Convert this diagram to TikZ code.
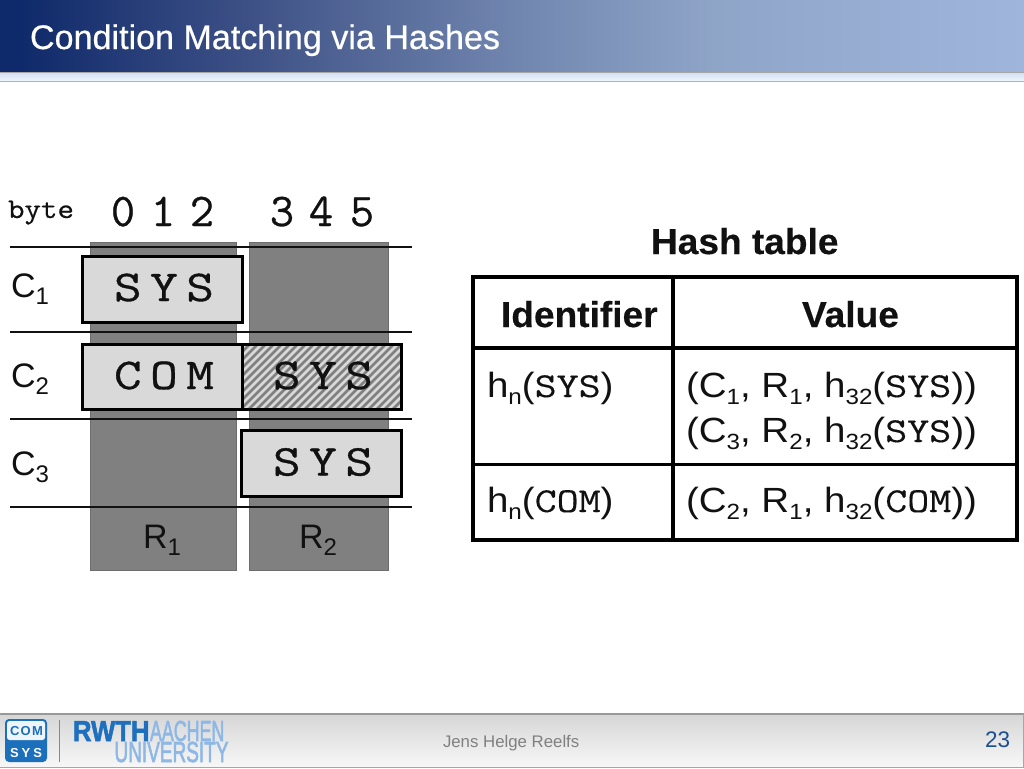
\documentclass[tikz,border=0pt]{standalone}
\usepackage{fontspec}
\setmainfont{Liberation Sans}
\setmonofont{Latin Modern Mono}
\newfontfamily\wmono[FakeStretch=1.22,FakeBold=0.8]{Latin Modern Mono}
\newfontfamily\dmono[FakeBold=0.6]{Latin Modern Mono}
\newfontfamily\cmono[FakeStretch=1.22,FakeBold=0.3]{Latin Modern Mono}
\newfontfamily\bmono[FakeStretch=1.12,FakeBold=0.5]{Latin Modern Mono}
\newfontfamily\tabfont[FakeStretch=1.10]{Liberation Sans}
\newfontfamily\tabbold[FakeStretch=1.03,FakeBold=0.4]{Liberation Sans Bold}
\newfontfamily\titlefont[FakeBold=0.5]{Liberation Sans}
\newfontfamily\logoheavy[FakeBold=2]{Liberation Sans Bold}
\newfontfamily\logomed[FakeBold=2.5]{Liberation Sans}
\definecolor{colgray}{HTML}{808080}
\definecolor{boxgray}{HTML}{D9D9D9}
\definecolor{ink}{HTML}{111111}
\definecolor{rwth}{HTML}{1F6FBF}
\definecolor{rwthlight}{HTML}{8DB8E6}
\definecolor{comsys}{HTML}{1B6FBB}
\definecolor{pagenum}{HTML}{1C4F8F}
\definecolor{headA}{HTML}{0F2A6A}
\definecolor{headB}{HTML}{3F5287}
\definecolor{headC}{HTML}{7085AE}
\definecolor{headD}{HTML}{8FA5C8}
\definecolor{headE}{HTML}{9FB5DC}
\definecolor{bandA}{HTML}{D3E2F5}
\definecolor{bandB}{HTML}{F0F5FB}
\pgfdeclarehorizontalshading{hdr}{100bp}{
  color(0bp)=(headA); color(26bp)=(headA); color(37.5bp)=(headB);
  color(50bp)=(headC); color(60bp)=(headD); color(75bp)=(headE); color(100bp)=(headE)}
\newcommand\fsz[1]{\fontsize{#1}{#1}\selectfont}
\newcommand\subs[2][22]{\raisebox{-7pt}{\fsz{#1}#2}}
\newcommand\spaced[3]{#1\hspace{8.5pt}#2\hspace{8.5pt}#3}
\newcommand\mn[1]{{\cmono #1}}
\tikzset{
  x=1pt,y=-1pt,
  txt/.style={inner sep=0pt,outer sep=0pt,anchor=base west,text=ink},
  column/.style={fill=colgray,draw=colgray!85!black,line width=.8pt},
  rowline/.style={draw=ink,line width=1.5pt},
  field/.style={fill=boxgray,draw=black,line width=3pt},
  grid/.style={draw=black,line width=3.2pt},
  mono/.style={txt,anchor=base,font=\wmono\fsz{44}},
  digits/.style={txt,anchor=base,font=\dmono\fsz{47}},
  cell/.style={txt,font=\tabfont\fsz{35}},
  cellhead/.style={txt,font=\tabbold\fsz{36}},
  rowlab/.style={txt,font=\fsz{34}},
}
\begin{document}
\begin{tikzpicture}
\useasboundingbox (0,0) rectangle (1024,768);
\fill[white] (0,0) rectangle (1024,768);
% header
\shade[shading=hdr] (0,0) rectangle (1024,72);
\fill[top color=bandA,bottom color=bandB] (0,73) rectangle (1024,81);
\draw[draw=black!35,line width=1pt] (0,72.5) -- (1024,72.5);
\draw[draw=black!30,line width=1.2pt] (0,81.5) -- (1024,81.5);
\node[txt,text=white,font=\titlefont\fsz{34.1}] (title) at (30,49) {Condition Matching via Hashes};
% footer
\fill[top color=black!16,bottom color=black!3] (0,714) rectangle (1024,767);
\draw[draw=black!40,line width=1.2pt] (0,714) -- (1024,714);
\draw[draw=black!35,line width=1pt] (0,767.5) -- (1024,767.5);
\draw[draw=black!35,line width=1pt] (1023.5,714) -- (1023.5,768);
\node[txt,text=black!50,font=\fsz{16.8}] (author) at (443,747) {Jens Helge Reelfs};
\node[txt,text=pagenum,font=\fsz{22.5}] (page) at (985,747) {23};
% COMSYS logo
\fill[comsys,rounded corners=4pt] (5,719) rectangle (47,762);
\fill[white!92!comsys,rounded corners=2.5pt] (7,721) -- (45,721) -- (45,740) -- (7,740) -- cycle;
\node[txt,text=comsys,font=\bfseries\fsz{13}] (com) at (10,735.5) {C\hspace{1.3pt}O\hspace{1.3pt}M};
\node[txt,text=white,font=\bfseries\fsz{13}] (sys) at (10,757) {S\hspace{3pt}Y\hspace{3pt}S};
\draw[draw=rwthlight!50!rwth,line width=1pt] (59.5,720) -- (59.5,762);
% RWTH logo
\node[txt,text=rwth,font=\logoheavy\fsz{29},xscale=.885] (rw) at (73,741) {RWTH};
\node[txt,text=rwthlight,font=\logomed\fsz{29},xscale=.615] (aa) at (150,741) {AACHEN};
\node[txt,text=rwthlight,font=\logomed\fsz{29},xscale=.655] (un) at (114.5,762) {UNIVERSITY};
% columns
\draw[column] (90,242) rectangle (236,570);
\draw[column] (249,242) rectangle (388,570);
% row lines
\foreach \yy in {247,332,419,507} \draw[rowline] (10,\yy) -- (412,\yy);
% fields
\draw[field] (82,256) rectangle (242,322);
\draw[field] (82,344) rectangle (242,409);
\fill[boxgray] (242,344) rectangle (401,409);
\begin{scope}
\clip (242,344) rectangle (401,409);
\foreach \xx in {0,8,...,240} \draw[draw=colgray,line width=2.6pt] (\xx+242,344) -- ++(-70,70);
\end{scope}
\draw[draw=black,line width=3pt] (242,344) rectangle (401,409);
\draw[field] (241,430) rectangle (401,496);
% field text
\node[mono] (f1) at (164,301) {\spaced SYS};
\node[mono] (f2) at (164,389) {\spaced COM};
\node[mono] (f3) at (323,389) {\spaced SYS};
\node[mono] (f4) at (323,475.5) {\spaced SYS};
% headers
\node[txt,font=\bmono\fsz{28.6}] (byte) at (8,218) {byte};
\node[digits] (d0) at (123,226) {0};
\node[digits] (d1) at (163,226) {1};
\node[digits] (d2) at (202,226) {2};
\node[digits] (d3) at (282,226) {3};
\node[digits] (d4) at (321,226) {4};
\node[digits] (d5) at (362,226) {5};
\node[rowlab] (c1) at (11,297) {C\subs[24]{1}};
\node[rowlab] (c2) at (11,387) {C\subs[24]{2}};
\node[rowlab] (c3) at (11,475) {C\subs[24]{3}};
\node[rowlab] (r1) at (143,548) {R\subs[24]{1}};
\node[rowlab] (r2) at (299,548) {R\subs[24]{2}};
% table
\node[cellhead] (tt) at (651,254) {Hash table};
\draw[grid] (473,277) rectangle (1017,540);
\draw[grid] (673,277) -- (673,540);
\draw[grid,line width=4pt] (473,348) -- (1017,348);
\draw[grid,line width=3pt] (473,464) -- (1017,464);
\node[cellhead] (hi) at (501,327) {Identifier};
\node[cellhead] (hv) at (802,327) {Value};
\node[cell] (a1) at (487,397) {h\subs{n}(\mn{SYS})};
\node[cell] (b1) at (686,397) {(C\subs{1}, R\subs{1}, h\subs{32}(\mn{SYS}))};
\node[cell] (b2) at (686,442) {(C\subs{3}, R\subs{2}, h\subs{32}(\mn{SYS}))};
\node[cell] (a2) at (487,512) {h\subs{n}(\mn{COM})};
\node[cell] (b3) at (686,512) {(C\subs{2}, R\subs{1}, h\subs{32}(\mn{COM}))};
\end{tikzpicture}
\end{document}
